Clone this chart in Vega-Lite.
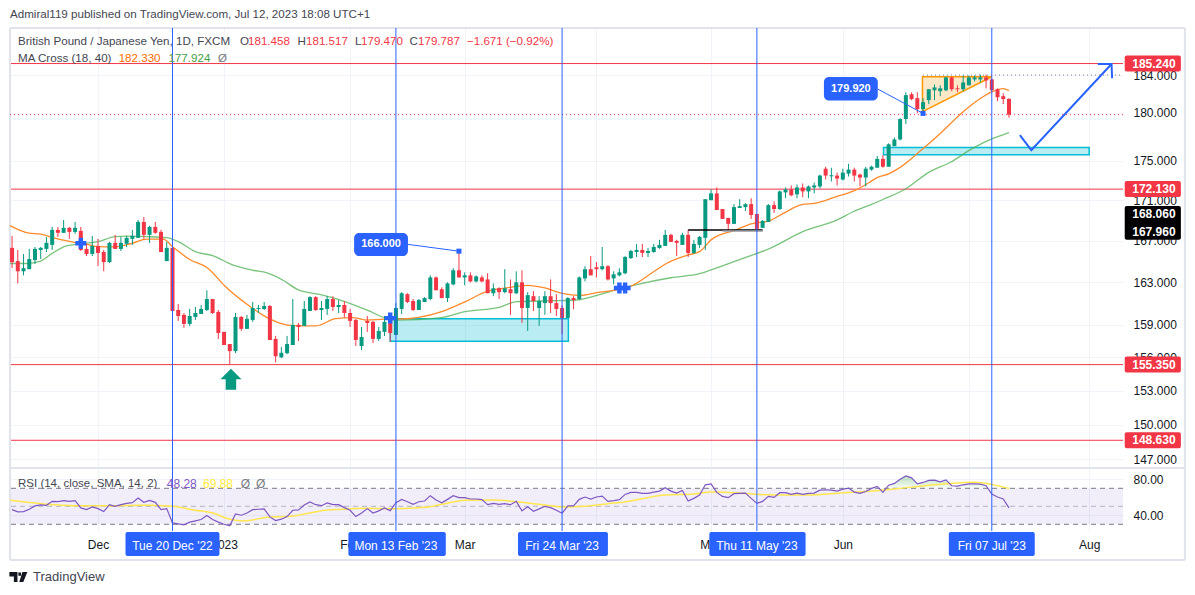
{"$schema":"https://vega.github.io/schema/vega-lite/v6.json","background":"white","padding":{"left":7,"top":9,"right":0,"bottom":0},"bounds":"flush","spacing":0,
"config":{"view":{"stroke":null},"text":{"font":"Liberation Sans"},"axis":{"labelFont":"Liberation Sans","labelFontSize":12,"labelColor":"#131722","gridColor":"#f0f3fa","gridWidth":1,"domain":false,"ticks":false,"labelOverlap":false,"labelBound":false,"labelFlush":false}},
"datasets":{
"candles":[
{"i":-15,"o":166.32,"h":167.49,"l":164.36,"c":164.94},{"i":-14,"o":165.04,"h":166.12,"l":162.9,"c":164.06},{"i":-13,"o":164.06,"h":165.73,"l":163.67,"c":164.36},{"i":-12,"o":164.26,"h":166.22,"l":164.26,"c":165.24},{"i":-11,"o":165.14,"h":166.41,"l":164.75,"c":166.22},{"i":-10,"o":166.12,"h":166.41,"l":165.24,"c":166.32},{"i":-9,"o":166.22,"h":167.39,"l":165.92,"c":166.81},{"i":-8,"o":166.61,"h":168.37,"l":166.12,"c":168.08},{"i":-7,"o":168.08,"h":168.37,"l":167.39,"c":167.79},{"i":-6,"o":167.79,"h":169.06,"l":167.79,"c":168.28},{"i":-5,"o":168.28,"h":168.37,"l":167.2,"c":167.88},{"i":-4,"o":167.88,"h":168.86,"l":167.69,"c":168.28},{"i":-3,"o":167.98,"h":168.37,"l":166.02,"c":166.12},{"i":-2,"o":166.22,"h":166.71,"l":165.53,"c":165.73},{"i":-1,"o":165.73,"h":167.49,"l":165.53,"c":166.51},
{"i":0,"o":166.51,"h":167.2,"l":164.55,"c":165.83},{"i":1,"o":165.92,"h":166.12,"l":164.06,"c":164.94},{"i":2,"o":164.94,"h":166.9,"l":164.85,"c":166.81},{"i":3,"o":166.81,"h":167.59,"l":166.22,"c":166.22},{"i":4,"o":166.22,"h":167.39,"l":166.02,"c":166.81},{"i":5,"o":166.71,"h":167.49,"l":166.41,"c":167.3},{"i":6,"o":167.2,"h":168.08,"l":166.61,"c":167.49},{"i":7,"o":167.3,"h":169.06,"l":167.3,"c":168.86},{"i":8,"o":168.86,"h":169.35,"l":167.2,"c":167.59},{"i":9,"o":167.59,"h":168.47,"l":166.81,"c":168.37},{"i":10,"o":168.37,"h":168.86,"l":167.69,"c":167.79},{"i":11,"o":167.88,"h":168.08,"l":165.92,"c":165.92},{"i":12,"o":165.04,"h":166.9,"l":165.04,"c":166.32},{"i":13,"o":166.32,"h":166.41,"l":158.53,"c":160.3},{"i":14,"o":160.39,"h":160.95,"l":159.37,"c":159.83},{"i":15,"o":159.93,"h":160.11,"l":158.72,"c":159.09},{"i":16,"o":159.09,"h":160.49,"l":158.9,"c":159.83},{"i":17,"o":159.74,"h":160.67,"l":159.46,"c":160.11},{"i":18,"o":160.02,"h":160.86,"l":160.02,"c":160.49},{"i":19,"o":160.39,"h":162.25,"l":160.3,"c":161.42},{"i":20,"o":161.42,"h":161.42,"l":160.02,"c":160.11},{"i":21,"o":160.21,"h":160.39,"l":157.7,"c":158.25},{"i":22,"o":158.35,"h":158.35,"l":157.14,"c":157.14},{"i":23,"o":157.23,"h":157.23,"l":155.35,"c":156.58},{"i":24,"o":156.58,"h":160.11,"l":156.39,"c":159.74},{"i":25,"o":159.74,"h":159.83,"l":158.44,"c":158.63},{"i":26,"o":158.63,"h":159.93,"l":158.63,"c":159.56},{"i":27,"o":159.46,"h":161.14,"l":159.28,"c":160.58},{"i":28,"o":160.49,"h":160.86,"l":160.11,"c":160.58},{"i":29,"o":160.49,"h":161.14,"l":160.39,"c":160.76},{"i":30,"o":160.76,"h":160.86,"l":157.6,"c":157.6},{"i":31,"o":157.7,"h":157.98,"l":155.56,"c":156.11},{"i":32,"o":156.02,"h":156.95,"l":155.93,"c":156.43},{"i":33,"o":156.39,"h":157.98,"l":156.3,"c":157.23},{"i":34,"o":157.14,"h":161.42,"l":157.14,"c":159},{"i":35,"o":159,"h":159.18,"l":157.51,"c":158.81},
{"i":36,"o":158.91,"h":161.23,"l":158.91,"c":160.49},{"i":37,"o":160.3,"h":161.69,"l":160.3,"c":161.6},{"i":38,"o":161.6,"h":161.69,"l":160.3,"c":160.39},{"i":39,"o":160.39,"h":161.23,"l":159.46,"c":160.58},{"i":40,"o":160.49,"h":161.69,"l":159.93,"c":161.42},{"i":41,"o":161.42,"h":161.69,"l":160.3,"c":160.67},{"i":42,"o":160.67,"h":161.32,"l":160.11,"c":160.86},{"i":43,"o":160.86,"h":161.23,"l":159.68,"c":160.11},{"i":44,"o":160.11,"h":160.49,"l":158.81,"c":159.37},{"i":45,"o":159.46,"h":159.56,"l":157.05,"c":157.6},{"i":46,"o":157.05,"h":158.81,"l":156.67,"c":157.88},{"i":47,"o":159.37,"h":159.83,"l":158.35,"c":159.18},{"i":48,"o":159.28,"h":159.37,"l":157.32,"c":157.7},{"i":49,"o":157.7,"h":158.81,"l":157.51,"c":158.44},{"i":50,"o":158.35,"h":159.83,"l":157.97,"c":159.28},{"i":51,"o":159.37,"h":159.74,"l":157.42,"c":158.25},{"i":52,"o":158.07,"h":161.04,"l":158.07,"c":160.58},{"i":53,"o":160.49,"h":162.07,"l":160.02,"c":161.97},{"i":54,"o":161.88,"h":161.97,"l":161.04,"c":161.14},{"i":55,"o":161.23,"h":161.42,"l":160.3,"c":160.39},{"i":56,"o":160.39,"h":161.42,"l":160.39,"c":161.32},{"i":57,"o":161.14,"h":161.6,"l":161.14,"c":161.51},{"i":58,"o":161.42,"h":163.67,"l":161.32,"c":163.47},{"i":59,"o":163.47,"h":163.57,"l":162.25,"c":162.25},{"i":60,"o":162.35,"h":162.53,"l":161.51,"c":161.51},{"i":61,"o":161.51,"h":163,"l":161.14,"c":162.9},{"i":62,"o":162.81,"h":164.36,"l":162.72,"c":164.16},{"i":63,"o":164.16,"h":166,"l":163.47,"c":163.47},{"i":64,"o":163.47,"h":163.96,"l":162.72,"c":163.67},{"i":65,"o":163.67,"h":163.96,"l":163,"c":163.09},{"i":66,"o":163.09,"h":163.67,"l":163,"c":163.57},{"i":67,"o":163.47,"h":163.67,"l":163,"c":163.09},{"i":68,"o":163.28,"h":163.87,"l":161.97,"c":161.97},{"i":69,"o":161.97,"h":162.9,"l":161.69,"c":162.44},{"i":70,"o":162.44,"h":162.53,"l":161.42,"c":162.07},{"i":71,"o":162.07,"h":164.26,"l":161.97,"c":162.44},{"i":72,"o":162.35,"h":163.28,"l":159.93,"c":161.97},{"i":73,"o":161.97,"h":164.06,"l":161.88,"c":163},{"i":74,"o":163,"h":164.16,"l":159.18,"c":160.58},{"i":75,"o":160.58,"h":162.07,"l":158.44,"c":161.79},{"i":76,"o":161.69,"h":162.16,"l":160.3,"c":161.23},{"i":77,"o":160.58,"h":161.69,"l":158.91,"c":161.23},{"i":78,"o":161.04,"h":162.16,"l":159.93,"c":161.69},{"i":79,"o":161.69,"h":163.28,"l":160.11,"c":161.04},{"i":80,"o":161.04,"h":161.88,"l":159.83,"c":160.49},{"i":81,"o":160.58,"h":160.86,"l":158.13,"c":159.65},{"i":82,"o":159.65,"h":161.6,"l":159.65,"c":161.51},{"i":83,"o":161.51,"h":161.69,"l":160.46,"c":161.32},{"i":84,"o":161.42,"h":163.57,"l":161.32,"c":163.47},{"i":85,"o":163.38,"h":164.55,"l":163.09,"c":164.26},{"i":86,"o":164.26,"h":165.53,"l":163.67,"c":163.67},{"i":87,"o":164.45,"h":164.94,"l":163.47,"c":164.26},
{"i":88,"o":164.26,"h":166.41,"l":164.16,"c":164.55},{"i":89,"o":164.55,"h":164.65,"l":163.18,"c":163.28},{"i":90,"o":163.38,"h":164.06,"l":162.81,"c":163.77},{"i":91,"o":163.67,"h":164.35,"l":163.57,"c":163.96},{"i":92,"o":163.87,"h":165.53,"l":163.77,"c":165.43},{"i":93,"o":165.33,"h":166.12,"l":165.24,"c":166.02},{"i":94,"o":165.92,"h":166.71,"l":165.43,"c":166.12},{"i":95,"o":166.12,"h":166.71,"l":165.43,"c":165.83},{"i":96,"o":165.83,"h":166.31,"l":165.43,"c":166.02},{"i":97,"o":165.92,"h":166.71,"l":165.83,"c":166.41},{"i":98,"o":166.31,"h":167.1,"l":166.22,"c":166.61},{"i":99,"o":166.51,"h":168.08,"l":166.51,"c":167.59},{"i":100,"o":167.59,"h":167.69,"l":166.9,"c":166.9},{"i":101,"o":167,"h":167.1,"l":165.53,"c":166.81},{"i":102,"o":166.61,"h":167.79,"l":166.61,"c":167.59},{"i":103,"o":167.59,"h":168.08,"l":165.43,"c":165.83},{"i":104,"o":165.83,"h":167.1,"l":165.73,"c":166.71},{"i":105,"o":166.61,"h":167.49,"l":166.31,"c":167.39},{"i":106,"o":167.3,"h":171.12,"l":166.12,"c":171.12},{"i":107,"o":171.02,"h":172.1,"l":171.02,"c":171.7},{"i":108,"o":171.7,"h":172.3,"l":170.04,"c":170.04},{"i":109,"o":170.14,"h":170.14,"l":169.16,"c":169.16},{"i":110,"o":169.26,"h":169.26,"l":168.08,"c":168.67},{"i":111,"o":168.67,"h":170.63,"l":168.67,"c":170.33},{"i":112,"o":170.24,"h":171.12,"l":170.24,"c":170.43},{"i":113,"o":170.33,"h":170.73,"l":169.94,"c":170.63},{"i":114,"o":170.63,"h":171.22,"l":169.16,"c":169.55},{"i":115,"o":169.65,"h":169.65,"l":167.88,"c":168.18},{"i":116,"o":168.28,"h":169.06,"l":168.28,"c":168.96},{"i":117,"o":168.86,"h":170.63,"l":168.86,"c":170.53},{"i":118,"o":170.53,"h":170.92,"l":169.75,"c":170.14},{"i":119,"o":170.14,"h":172,"l":170.04,"c":171.9},{"i":120,"o":171.8,"h":172.3,"l":171.22,"c":172.1},{"i":121,"o":172.1,"h":172.5,"l":171.41,"c":171.51},{"i":122,"o":171.61,"h":172.6,"l":171.22,"c":172.3},{"i":123,"o":172.3,"h":172.7,"l":171.32,"c":171.9},{"i":124,"o":171.9,"h":172.5,"l":171.22,"c":172.4},{"i":125,"o":172.3,"h":172.8,"l":171.7,"c":172.5},{"i":126,"o":172.4,"h":173.6,"l":172.2,"c":173.5},{"i":127,"o":174.2,"h":174.4,"l":173.1,"c":173.5},{"i":128,"o":173.43,"h":174.3,"l":172.9,"c":173.53},{"i":129,"o":173.5,"h":173.8,"l":172.5,"c":173.2},
{"i":130,"o":173.1,"h":174.2,"l":173,"c":173.8},{"i":131,"o":173.7,"h":174.7,"l":173.4,"c":174.1},{"i":132,"o":174.1,"h":174.3,"l":172.9,"c":173.5},{"i":133,"o":173.6,"h":173.7,"l":172.4,"c":173.3},{"i":134,"o":173.3,"h":174.4,"l":172.4,"c":174.2},{"i":135,"o":174.1,"h":174.5,"l":174,"c":174.4},{"i":136,"o":174.3,"h":175.5,"l":174.3,"c":175.2},{"i":137,"o":175.2,"h":175.6,"l":174.3,"c":174.4},{"i":138,"o":174.4,"h":176.8,"l":174.4,"c":176.7},{"i":139,"o":176.5,"h":177.4,"l":176.5,"c":177.2},{"i":140,"o":177.2,"h":179.43,"l":177.1,"c":179.33},{"i":141,"o":179.33,"h":182.16,"l":178.8,"c":181.85},{"i":142,"o":181.95,"h":182.16,"l":181.32,"c":181.43},{"i":143,"o":181.53,"h":182.16,"l":179.95,"c":180.37},{"i":144,"o":180.37,"h":181.53,"l":179.92,"c":181.11},{"i":145,"o":181.32,"h":182.48,"l":180.9,"c":182.48},{"i":146,"o":182.37,"h":183,"l":181.32,"c":182.68},{"i":147,"o":182.27,"h":182.9,"l":181.74,"c":182.58},{"i":148,"o":182.37,"h":183.84,"l":182.27,"c":183.74},{"i":149,"o":183.74,"h":183.84,"l":182.27,"c":182.48},{"i":150,"o":182.58,"h":182.9,"l":182.16,"c":182.48},{"i":151,"o":182.48,"h":183.95,"l":182.27,"c":183.21},{"i":152,"o":182.9,"h":183.95,"l":182.9,"c":183.74},{"i":153,"o":183.53,"h":183.95,"l":183.32,"c":183.74},{"i":154,"o":183.53,"h":184.05,"l":183.21,"c":183.74},{"i":155,"o":183.74,"h":184.05,"l":182.58,"c":183.42},{"i":156,"o":183.53,"h":183.63,"l":182.16,"c":182.37},{"i":157,"o":182.48,"h":182.58,"l":181.21,"c":181.63},{"i":158,"o":181.74,"h":182.05,"l":180.9,"c":181.43},{"i":159,"o":181.458,"h":181.517,"l":179.47,"c":179.787}],
"ma":[
{"s":"ma18","i":-15.36,"v":168.5},{"s":"ma18","i":-12,"v":167.75},{"s":"ma18","i":-10,"v":167.66},{"s":"ma18","i":-7.5,"v":167.26},{"s":"ma18","i":-4,"v":166.83},{"s":"ma18","i":-2,"v":166.68},{"s":"ma18","i":0,"v":166.44},{"s":"ma18","i":3,"v":166.41},{"s":"ma18","i":6,"v":166.77},{"s":"ma18","i":8.5,"v":167.17},{"s":"ma18","i":11.4,"v":167.17},{"s":"ma18","i":13,"v":166.44},{"s":"ma18","i":16,"v":165.2},{"s":"ma18","i":19,"v":164.42},{"s":"ma18","i":22.5,"v":162.47},{"s":"ma18","i":26,"v":160.93},{"s":"ma18","i":29,"v":159.84},{"s":"ma18","i":32,"v":159.12},{"s":"ma18","i":34,"v":158.93},{"s":"ma18","i":38,"v":158.9},{"s":"ma18","i":41.5,"v":159.59},{"s":"ma18","i":44.5,"v":159.68},{"s":"ma18","i":47,"v":159.44},{"s":"ma18","i":50,"v":159.53},{"s":"ma18","i":52,"v":159.53},{"s":"ma18","i":60,"v":160.24},{"s":"ma18","i":64.3,"v":161.23},{"s":"ma18","i":68,"v":162.16},{"s":"ma18","i":71.3,"v":162.47},{"s":"ma18","i":75,"v":162.72},{"s":"ma18","i":78,"v":162.47},{"s":"ma18","i":81,"v":161.95},{"s":"ma18","i":84,"v":161.76},{"s":"ma18","i":87.6,"v":162.07},{"s":"ma18","i":90,"v":162.23},{"s":"ma18","i":93,"v":162.63},{"s":"ma18","i":96.9,"v":163.99},{"s":"ma18","i":99.2,"v":164.81},{"s":"ma18","i":103,"v":165.63},{"s":"ma18","i":105,"v":165.95},{"s":"ma18","i":107,"v":167.1},{"s":"ma18","i":111.4,"v":168.08},{"s":"ma18","i":114,"v":168.67},{"s":"ma18","i":117.3,"v":169},{"s":"ma18","i":119.6,"v":169.71},{"s":"ma18","i":123,"v":170.6},{"s":"ma18","i":125,"v":170.7},{"s":"ma18","i":129,"v":171.41},{"s":"ma18","i":131.8,"v":171.93},{"s":"ma18","i":134.7,"v":172.83},{"s":"ma18","i":135.9,"v":173.27},{"s":"ma18","i":138,"v":173.67},{"s":"ma18","i":140,"v":174.33},{"s":"ma18","i":143.5,"v":176},{"s":"ma18","i":147,"v":177.83},{"s":"ma18","i":151,"v":180.1},{"s":"ma18","i":154,"v":181.5},{"s":"ma18","i":156,"v":182.2},{"s":"ma18","i":158,"v":182.55},{"s":"ma18","i":159,"v":182.33},
{"s":"ma40","i":-15.36,"v":164.81},{"s":"ma40","i":-12.5,"v":164.81},{"s":"ma40","i":-10,"v":165.04},{"s":"ma40","i":-8,"v":165.79},{"s":"ma40","i":-5.5,"v":166.51},{"s":"ma40","i":-3,"v":166.71},{"s":"ma40","i":0,"v":166.93},{"s":"ma40","i":3,"v":167.42},{"s":"ma40","i":5,"v":167.46},{"s":"ma40","i":8.5,"v":167.42},{"s":"ma40","i":12,"v":167.32},{"s":"ma40","i":14,"v":166.93},{"s":"ma40","i":17,"v":165.95},{"s":"ma40","i":20,"v":165.56},{"s":"ma40","i":23.6,"v":164.65},{"s":"ma40","i":27,"v":164.16},{"s":"ma40","i":29.5,"v":163.9},{"s":"ma40","i":32.3,"v":163.2},{"s":"ma40","i":35,"v":162.28},{"s":"ma40","i":38.7,"v":161.85},{"s":"ma40","i":42.8,"v":161.23},{"s":"ma40","i":47,"v":160.37},{"s":"ma40","i":50.4,"v":159.59},{"s":"ma40","i":52,"v":159.44},{"s":"ma40","i":60,"v":159.68},{"s":"ma40","i":63.8,"v":160.21},{"s":"ma40","i":70.2,"v":160.67},{"s":"ma40","i":73,"v":161.17},{"s":"ma40","i":79,"v":161.26},{"s":"ma40","i":83.5,"v":161.33},{"s":"ma40","i":88,"v":161.91},{"s":"ma40","i":90,"v":162.23},{"s":"ma40","i":94,"v":162.79},{"s":"ma40","i":100,"v":163.44},{"s":"ma40","i":105,"v":163.83},{"s":"ma40","i":108.5,"v":164.48},{"s":"ma40","i":112.6,"v":165.3},{"s":"ma40","i":117.3,"v":166.28},{"s":"ma40","i":123,"v":167.91},{"s":"ma40","i":129,"v":169.06},{"s":"ma40","i":131.8,"v":169.87},{"s":"ma40","i":134.7,"v":170.53},{"s":"ma40","i":137,"v":171.09},{"s":"ma40","i":141,"v":172.17},{"s":"ma40","i":145,"v":173.83},{"s":"ma40","i":148.7,"v":174.83},{"s":"ma40","i":152.8,"v":176.33},{"s":"ma40","i":156.3,"v":177.33},{"s":"ma40","i":159,"v":177.924}],
"rsi":[
{"i":-15,"r":46.3},{"i":-14,"r":43.8},{"i":-13,"r":44.1},{"i":-12,"r":46.7},{"i":-11,"r":50.4},{"i":-10,"r":51.5},{"i":-9,"r":51.1},{"i":-8,"r":55.5},{"i":-7,"r":55.1},{"i":-6,"r":56.3},{"i":-5,"r":55.5},{"i":-4,"r":56.3},{"i":-3,"r":48.2},{"i":-2,"r":46.3},{"i":-1,"r":49.3},{"i":0,"r":47.4},{"i":1,"r":44.1},{"i":2,"r":51.8},{"i":3,"r":50},{"i":4,"r":51.8},{"i":5,"r":53.3},{"i":6,"r":54},{"i":7,"r":59.2},{"i":8,"r":54.4},{"i":9,"r":56.6},{"i":10,"r":54.4},{"i":11,"r":46.3},{"i":12,"r":47.4},{"i":13,"r":31.6},{"i":14,"r":30.5},{"i":15,"r":29.4},{"i":16,"r":32.4},{"i":17,"r":33.8},{"i":18,"r":35.3},{"i":19,"r":39.7},{"i":20,"r":35.3},{"i":21,"r":32.4},{"i":22,"r":30.1},{"i":23,"r":28.3},{"i":24,"r":41.5},{"i":25,"r":40.1},{"i":26,"r":42.6},{"i":27,"r":46.3},{"i":28,"r":46.7},{"i":29,"r":47.1},{"i":30,"r":38.2},{"i":31,"r":34.2},{"i":32,"r":35.7},{"i":33,"r":38.6},{"i":34,"r":45.6},{"i":35,"r":46},{"i":36,"r":51.5},{"i":37,"r":54.8},
{"i":38,"r":51.8},{"i":39,"r":50.7},{"i":40,"r":53.7},{"i":41,"r":51.8},{"i":42,"r":51.8},{"i":43,"r":48.5},{"i":44,"r":45.6},{"i":45,"r":38.6},{"i":46,"r":42.6},{"i":47,"r":47.4},{"i":48,"r":42.6},{"i":49,"r":44.9},{"i":50,"r":48.2},{"i":51,"r":45.2},{"i":52,"r":54},{"i":53,"r":57.7},{"i":54,"r":55.1},{"i":55,"r":52.2},{"i":56,"r":55.1},{"i":57,"r":55.9},{"i":58,"r":61.8},{"i":59,"r":57},{"i":60,"r":54},{"i":61,"r":57.7},{"i":62,"r":61.8},{"i":63,"r":59.6},{"i":64,"r":59.6},{"i":65,"r":58.1},{"i":66,"r":58.1},{"i":67,"r":57.4},{"i":68,"r":51.8},{"i":69,"r":53.3},{"i":70,"r":52.2},{"i":71,"r":52.9},{"i":72,"r":51.8},{"i":73,"r":55.5},{"i":74,"r":44.9},{"i":75,"r":49.6},{"i":76,"r":44.5},{"i":77,"r":47.1},{"i":78,"r":50},{"i":79,"r":48.5},{"i":80,"r":45.6},{"i":81,"r":42.3},{"i":82,"r":50.4},{"i":83,"r":50.4},{"i":84,"r":57.7},{"i":85,"r":60.3},{"i":86,"r":58.1},{"i":87,"r":60.3},{"i":88,"r":61.4},{"i":89,"r":55.5},
{"i":90,"r":56.3},{"i":91,"r":57.4},{"i":92,"r":63.2},{"i":93,"r":65.4},{"i":94,"r":65.4},{"i":95,"r":64.3},{"i":96,"r":64.3},{"i":97,"r":65.8},{"i":98,"r":66.9},{"i":99,"r":70.6},{"i":100,"r":66.9},{"i":101,"r":64.7},{"i":102,"r":67.6},{"i":103,"r":55.9},{"i":104,"r":58.8},{"i":105,"r":62.5},{"i":106,"r":73.9},{"i":107,"r":75},{"i":108,"r":65.4},{"i":109,"r":61},{"i":110,"r":59.6},{"i":111,"r":64},{"i":112,"r":64.3},{"i":113,"r":64.7},{"i":114,"r":58.8},{"i":115,"r":53.3},{"i":116,"r":55.5},{"i":117,"r":61},{"i":118,"r":59.9},{"i":119,"r":65.1},{"i":120,"r":65.1},{"i":121,"r":63.2},{"i":122,"r":64.7},{"i":123,"r":63.2},{"i":124,"r":64.3},{"i":125,"r":64.7},{"i":126,"r":68},{"i":127,"r":68.4},{"i":128,"r":68},{"i":129,"r":66.9},{"i":130,"r":69.1},{"i":131,"r":70.2},{"i":132,"r":65.8},{"i":133,"r":64.3},{"i":134,"r":66.5},{"i":135,"r":69.9},{"i":136,"r":72.1},{"i":137,"r":65.4},{"i":138,"r":73.5},{"i":139,"r":75.4},{"i":140,"r":80.1},{"i":141,"r":83.8},{"i":142,"r":81.6},{"i":143,"r":75},{"i":144,"r":76.5},{"i":145,"r":78.7},{"i":146,"r":79},{"i":147,"r":77.2},{"i":148,"r":79.4},{"i":149,"r":72.8},{"i":150,"r":72.4},{"i":151,"r":73.9},{"i":152,"r":75},{"i":153,"r":75},{"i":154,"r":74.6},{"i":155,"r":72.8},{"i":156,"r":63.6},{"i":157,"r":60.3},{"i":158,"r":58.1},{"i":159,"r":48.28}],
"rsima":[{"i":-15.36,"v":56.6},{"i":-9.5,"v":52.6},{"i":-4,"v":50.7},{"i":2,"v":50.7},{"i":8,"v":51.1},{"i":13,"v":50},{"i":17,"v":45.6},{"i":20,"v":42.6},{"i":23,"v":35.7},{"i":25.5,"v":33.8},{"i":30,"v":38.2},{"i":33,"v":38.6},{"i":37,"v":42.6},{"i":40,"v":46},{"i":43,"v":46.7},{"i":46,"v":47.8},{"i":52,"v":47.4},{"i":57,"v":48.9},{"i":60,"v":52.2},{"i":64,"v":56.6},{"i":69,"v":57},{"i":73,"v":55.1},{"i":78,"v":51.5},{"i":81,"v":49.3},{"i":85,"v":50},{"i":89,"v":52.9},{"i":92,"v":54.8},{"i":95,"v":58.5},{"i":99,"v":62.5},{"i":104,"v":63.6},{"i":107,"v":65.8},{"i":113,"v":64.3},{"i":118,"v":62.5},{"i":124,"v":62.5},{"i":130,"v":65.1},{"i":136,"v":67.3},{"i":142,"v":71.3},{"i":148,"v":75},{"i":153,"v":76.8},{"i":156,"v":74.3},{"i":159,"v":69.88}],
"markers":[{"i":13},{"i":52},{"i":81},{"i":115},{"i":156}],
"levels":[{"p":185.24},{"p":172.13},{"p":155.35},{"p":148.63}],
"lastprice":[{"p":179.787}],
"boxes":[{"a":51,"b":82.1,"lo":157.49,"hi":159.56},{"a":137.1,"b":173,"lo":175.63,"hi":176.37}],
"wedge":[{"i":143.9,"lo":180.1,"hi":183.82},{"i":156,"lo":183.82,"hi":183.82}],
"segs":[{"a":103,"b":116,"p":168.06,"kind":"black"},{"a":109,"b":116,"p":167.96,"kind":"gray"}],
"crosses":[{"i":-3,"p":166.77},{"i":51,"p":159.63},{"i":91,"p":162.47},{"i":92,"p":162.47}],
"signal":[{"i":23.2,"p":154.02}],
"arrow":[{"k":1,"part":"body","i":160.9,"p":177.66},{"k":2,"part":"body","i":162.9,"p":176.1},{"k":3,"part":"body","i":176.9,"p":185.19},{"k":4,"part":"head","i":174.5,"p":185.19},{"k":5,"part":"head","i":176.9,"p":185.19},{"k":6,"part":"head","i":177,"p":183.65}],
"callouts":[{"a":44.7,"b":54.1,"lo":165.53,"hi":167.78,"mid":49.4,"at":166.66,"tip":63,"tp":166,"label":"166.000"},{"a":126.7,"b":136.1,"lo":181.27,"hi":183.8,"mid":131.4,"at":182.5,"tip":144,"tp":179.92,"label":"179.920"}],
"tags":[{"a":179.2,"b":189,"lo":184.38,"hi":186.11,"kind":"red"},{"a":179.2,"b":189,"lo":171.33,"hi":172.94,"kind":"red"},{"a":179.2,"b":189,"lo":154.63,"hi":156.08,"kind":"red"},{"a":179.2,"b":189,"lo":147.94,"hi":149.33,"kind":"red"},{"a":179.2,"b":189,"lo":167.1,"hi":170.43,"kind":"black"}],
"tagtext":[{"p":185.24,"label":"185.240"},{"p":172.13,"label":"172.130"},{"p":155.35,"label":"155.350"},{"p":148.63,"label":"148.630"},{"p":169.65,"label":"168.060"},{"p":167.91,"label":"167.960"}],
"labels":[{"i":-15.36,"p":190.57,"label":"Admiral119 published on TradingView.com, Jul 12, 2023 18:08 UTC+1","kind":"dark"},{"i":-13.96,"p":187.59,"label":"British Pound / Japanese Yen, 1D, FXCM","kind":"dark"},{"i":24.78,"p":187.59,"label":"O","kind":"dark"},{"i":26.18,"p":187.59,"label":"181.458","kind":"red"},{"i":34.8,"p":187.59,"label":"H","kind":"dark"},{"i":36.3,"p":187.59,"label":"181.517","kind":"red"},{"i":44.85,"p":187.59,"label":"L","kind":"dark"},{"i":45.9,"p":187.59,"label":"179.470","kind":"red"},{"i":54.36,"p":187.59,"label":"C","kind":"dark"},{"i":55.85,"p":187.59,"label":"179.787","kind":"red"},{"i":64.4,"p":187.59,"label":"−1.671 (−0.92%)","kind":"red"},{"i":-13.96,"p":185.73,"label":"MA Cross (18, 40)","kind":"dark"},{"i":3.6,"p":185.73,"label":"182.330","kind":"orange"},{"i":12.29,"p":185.73,"label":"177.924","kind":"green"},{"i":20.94,"p":185.73,"label":"Ø","kind":"gray"}],
"rsilabels":[{"i":-13.96,"v":74.8,"label":"RSI (14, close, SMA, 14, 2)","kind":"dark"},{"i":12,"v":74.8,"label":"48.28","kind":"purple"},{"i":18.32,"v":74.8,"label":"69.88","kind":"yellow"},{"i":24.9,"v":74.8,"label":"Ø","kind":"gray"},{"i":27.57,"v":74.8,"label":"Ø","kind":"gray"},{"i":-11.34,"v":-28.6,"label":"TradingView","kind":"dark"}],
"dates":[{"a":4.8,"b":21.2,"mid":13,"label":"Tue 20 Dec '22"},{"a":43.7,"b":60.7,"mid":52,"label":"Mon 13 Feb '23"},{"a":73.3,"b":89,"mid":81,"label":"Fri 24 Mar '23"},{"a":106.7,"b":123.5,"mid":115,"label":"Thu 11 May '23"},{"a":148.5,"b":163.5,"mid":156,"label":"Fri 07 Jul '23"}],
"bands":[{"a":-15.36,"b":178.9,"lo":30,"hi":70}],
"rsilevels":[{"v":70,"kind":"gray"},{"v":30,"kind":"gray"},{"v":50,"kind":"soft"}],
"framemain":[{"a":-15.36,"b":189.7,"p":189.13},{"a":-15.36,"b":189.7,"p":146.24}],
"frameedge":[{"i":-15.36},{"i":189.7}],
"framersi":[{"i":-15.36,"top":92.55,"bottom":-9.7},{"i":189.7,"top":92.55,"bottom":-9.7}],
"framefoot":[{"a":-15.36,"b":189.7,"v":-9.7}],
"logo":[{"i":-13.9,"v":-28.6}]
},
"vconcat":[
{"width":1113,"height":440,"layer":[
{"data":{"name":"levels"},"mark":{"type":"rule","color":"#f23645","strokeWidth":1},"encoding":{
"x":{"datum":-15.36,"type":"quantitative","scale":{"domain":[-15.36,178.9],"nice":false,"zero":false,"padding":0},"axis":{"values":[0,22,44,64,87,107,130,152,173],"labels":false,"grid":true,"title":null}},
"x2":{"datum":178.9},
"y":{"field":"p","type":"quantitative","scale":{"type":"log","domain":[146.24,189.13],"nice":false,"zero":false},"axis":{"orient":"right","values":[147,150,153,156,159,163,167,171,175,180,184],"format":".3f","labelPadding":10,"grid":true,"title":null}}}},
{"data":{"name":"framemain"},"mark":{"type":"rule","color":"#e0e3eb","strokeWidth":2},"encoding":{"x":{"field":"a","type":"quantitative"},"x2":{"field":"b"},"y":{"field":"p","type":"quantitative"}}},
{"data":{"name":"frameedge"},"mark":{"type":"rule","color":"#e0e3eb","strokeWidth":2},"encoding":{"x":{"field":"i","type":"quantitative"}}},
{"data":{"name":"boxes"},"mark":{"type":"rect","fill":"#00bcd4","fillOpacity":0.27,"stroke":"#00bcd4","strokeWidth":1.5},"encoding":{"x":{"field":"a","type":"quantitative"},"x2":{"field":"b"},"y":{"field":"lo","type":"quantitative"},"y2":{"field":"hi"}}},
{"data":{"name":"wedge"},"mark":{"type":"area","fill":"#ff9800","fillOpacity":0.22,"stroke":"#ff9800","strokeWidth":1.5},"encoding":{"x":{"field":"i","type":"quantitative"},"y":{"field":"lo","type":"quantitative"},"y2":{"field":"hi"}}},
{"data":{"name":"ma"},"transform":[{"filter":"datum.s==='ma40'"}],"mark":{"type":"line","color":"#4caf50","opacity":0.75,"strokeWidth":1.3,"interpolate":"monotone"},"encoding":{"x":{"field":"i","type":"quantitative"},"y":{"field":"v","type":"quantitative"}}},
{"data":{"name":"ma"},"transform":[{"filter":"datum.s==='ma18'"}],"mark":{"type":"line","color":"#ff8a2b","strokeWidth":1.3,"interpolate":"monotone"},"encoding":{"x":{"field":"i","type":"quantitative"},"y":{"field":"v","type":"quantitative"}}},
{"data":{"name":"lastprice"},"mark":{"type":"rule","color":"#f23645","strokeWidth":1,"strokeDash":[1,3]},"encoding":{"y":{"field":"p","type":"quantitative"}}},
{"data":{"values":[{"a":144,"b":178.9,"p":184}]},"mark":{"type":"rule","color":"#787b86","strokeWidth":1,"strokeDash":[1,3]},"encoding":{"x":{"field":"a","type":"quantitative"},"x2":{"field":"b"},"y":{"field":"p","type":"quantitative"}}},
{"data":{"name":"candles"},"mark":{"type":"rule","strokeWidth":1},"encoding":{"x":{"field":"i","type":"quantitative"},"y":{"field":"l","type":"quantitative"},"y2":{"field":"h"},"color":{"condition":{"test":"datum.c>=datum.o","value":"#089981"},"value":"#f23645"}}},
{"data":{"name":"candles"},"mark":{"type":"bar","size":4},"encoding":{"x":{"field":"i","type":"quantitative"},"y":{"field":"o","type":"quantitative"},"y2":{"field":"c"},"color":{"condition":{"test":"datum.c>=datum.o","value":"#089981"},"value":"#f23645"}}},
{"data":{"name":"segs"},"mark":{"type":"rule","strokeWidth":1.5},"encoding":{"x":{"field":"a","type":"quantitative"},"x2":{"field":"b"},"y":{"field":"p","type":"quantitative"},"color":{"field":"kind","type":"nominal","legend":null,"scale":{"domain":["black","gray"],"range":["#000000","#9598a1"]}}}},
{"data":{"name":"crosses"},"mark":{"type":"point","shape":"cross","filled":true,"size":121,"color":"#2962ff","opacity":1},"encoding":{"x":{"field":"i","type":"quantitative"},"y":{"field":"p","type":"quantitative"}}},
{"data":{"name":"signal"},"mark":{"type":"point","shape":"M0,-1 L1,0 L0.5,0 L0.5,1 L-0.5,1 L-0.5,0 L-1,0 Z","filled":true,"size":441,"color":"#089981","opacity":1},"encoding":{"x":{"field":"i","type":"quantitative"},"y":{"field":"p","type":"quantitative"}}},
{"data":{"name":"arrow"},"mark":{"type":"line","color":"#2962ff","strokeWidth":2},"encoding":{"x":{"field":"i","type":"quantitative"},"y":{"field":"p","type":"quantitative"},"detail":{"field":"part"},"order":{"field":"k"}}},
{"data":{"name":"markers"},"mark":{"type":"rule","color":"#2962ff","strokeWidth":1},"encoding":{"x":{"field":"i","type":"quantitative"}}},
{"data":{"name":"callouts"},"mark":{"type":"rule","color":"#2962ff","strokeWidth":1},"encoding":{"x":{"field":"b","type":"quantitative"},"x2":{"field":"tip"},"y":{"field":"at","type":"quantitative"},"y2":{"field":"tp"}}},
{"data":{"name":"callouts"},"mark":{"type":"point","shape":"square","filled":true,"size":25,"color":"#2962ff","opacity":1},"encoding":{"x":{"field":"tip","type":"quantitative"},"y":{"field":"tp","type":"quantitative"}}},
{"data":{"name":"callouts"},"mark":{"type":"rect","fill":"#2962ff","cornerRadius":5},"encoding":{"x":{"field":"a","type":"quantitative"},"x2":{"field":"b"},"y":{"field":"lo","type":"quantitative"},"y2":{"field":"hi"}}},
{"data":{"name":"callouts"},"mark":{"type":"text","color":"white","fontSize":11,"fontWeight":"bold","align":"center","baseline":"middle"},"encoding":{"x":{"field":"mid","type":"quantitative"},"y":{"field":"at","type":"quantitative"},"text":{"field":"label"}}},
{"data":{"name":"tags"},"transform":[{"filter":"datum.kind==='red'"}],"mark":{"type":"rect","fill":"#f23645","cornerRadius":2},"encoding":{"x":{"field":"a","type":"quantitative"},"x2":{"field":"b"},"y":{"field":"lo","type":"quantitative"},"y2":{"field":"hi"}}},
{"data":{"name":"tags"},"transform":[{"filter":"datum.kind==='black'"}],"mark":{"type":"rect","fill":"#000000","cornerRadius":2},"encoding":{"x":{"field":"a","type":"quantitative"},"x2":{"field":"b"},"y":{"field":"lo","type":"quantitative"},"y2":{"field":"hi"}}},
{"data":{"name":"tagtext"},"mark":{"type":"text","color":"white","fontSize":12,"fontWeight":"bold","align":"center","baseline":"middle"},"encoding":{"x":{"datum":184.3,"type":"quantitative"},"y":{"field":"p","type":"quantitative"},"text":{"field":"label"}}},
{"data":{"name":"labels"},"mark":{"type":"text","fontSize":11.6,"align":"left","baseline":"middle"},"encoding":{"x":{"field":"i","type":"quantitative"},"y":{"field":"p","type":"quantitative"},"text":{"field":"label"},"color":{"field":"kind","type":"nominal","legend":null,"scale":{"domain":["dark","red","orange","green","gray"],"range":["#434651","#f23645","#ff6d00","#43a047","#787b86"]}}}}
],"resolve":{"scale":{"color":"independent"}}},
{"width":1113,"height":63,"layer":[
{"data":{"name":"bands"},"mark":{"type":"rect","fill":"#7e57c2","fillOpacity":0.1},"encoding":{
"x":{"field":"a","type":"quantitative","scale":{"domain":[-15.36,178.9],"nice":false,"zero":false,"padding":0},"axis":{"values":[0,22,44,64,87,107,130,152,173],"labelExpr":"{'0':'Dec','22':'2023','44':'Feb','64':'Mar','87':'','107':'May','130':'Jun','152':'','173':'Aug'}[datum.value]","labelPadding":8,"grid":true,"title":null}},
"x2":{"field":"b"},
"y":{"field":"lo","type":"quantitative","scale":{"domain":[22.56,92.55],"nice":false,"zero":false},"axis":{"orient":"right","values":[40,80],"format":".2f","labelPadding":10,"grid":true,"title":null}},
"y2":{"field":"hi"}}},
{"data":{"name":"framersi"},"mark":{"type":"rule","color":"#e0e3eb","strokeWidth":2},"encoding":{"x":{"field":"i","type":"quantitative"},"y":{"field":"top","type":"quantitative"},"y2":{"field":"bottom"}}},
{"data":{"name":"framefoot"},"mark":{"type":"rule","color":"#e0e3eb","strokeWidth":2},"encoding":{"x":{"field":"a","type":"quantitative"},"x2":{"field":"b"},"y":{"field":"v","type":"quantitative"}}},
{"data":{"name":"rsilevels"},"transform":[{"filter":"datum.kind==='gray'"}],"mark":{"type":"rule","color":"#787b86","strokeWidth":1,"strokeDash":[5,4]},"encoding":{"y":{"field":"v","type":"quantitative"}}},
{"data":{"name":"rsilevels"},"transform":[{"filter":"datum.kind==='soft'"}],"mark":{"type":"rule","color":"#b2b5be","strokeWidth":1,"strokeDash":[5,4]},"encoding":{"y":{"field":"v","type":"quantitative"}}},
{"data":{"name":"rsi"},"transform":[{"filter":"datum.i>=138 && datum.i<=155"}],"mark":{"type":"area","color":{"gradient":"linear","x1":0,"x2":0,"y1":0,"y2":1,"stops":[{"offset":0,"color":"rgba(76,175,80,0.4)"},{"offset":1,"color":"rgba(76,175,80,0.03)"}]}},"encoding":{"x":{"field":"i","type":"quantitative"},"y":{"field":"r","type":"quantitative"},"y2":{"datum":70}}},
{"data":{"name":"rsima"},"mark":{"type":"line","color":"#ffe64d","strokeWidth":1.5,"interpolate":"monotone"},"encoding":{"x":{"field":"i","type":"quantitative"},"y":{"field":"v","type":"quantitative"}}},
{"data":{"name":"rsi"},"mark":{"type":"line","color":"#7e57c2","strokeWidth":1.2},"encoding":{"x":{"field":"i","type":"quantitative"},"y":{"field":"r","type":"quantitative"}}},
{"data":{"name":"markers"},"mark":{"type":"rule","color":"#2962ff","strokeWidth":1},"encoding":{"x":{"field":"i","type":"quantitative"}}},
{"data":{"name":"dates"},"mark":{"type":"rect","fill":"#2962ff","cornerRadius":2},"encoding":{"x":{"field":"a","type":"quantitative"},"x2":{"field":"b"},"y":{"datum":21.44,"type":"quantitative"},"y2":{"datum":-5.22}}},
{"data":{"name":"dates"},"mark":{"type":"text","color":"white","fontSize":12,"align":"center","baseline":"middle"},"encoding":{"x":{"field":"mid","type":"quantitative"},"y":{"datum":5.9,"type":"quantitative"},"text":{"field":"label"}}},
{"data":{"name":"logo"},"mark":{"type":"point","shape":"M-1,-0.55 L-0.1,-0.55 L-0.1,0.55 L-0.5,0.55 L-0.5,-0.05 L-1,-0.05 Z M0,-0.5 L0.3,-0.5 L0.3,-0.15 L0,-0.15 Z M0.45,-0.55 L1,-0.55 L0.55,0.55 L0.1,0.55 Z","filled":true,"size":324,"color":"#131722","opacity":1},"encoding":{"x":{"field":"i","type":"quantitative"},"y":{"field":"v","type":"quantitative"}}},
{"data":{"name":"rsilabels"},"transform":[{"filter":"datum.kind!=='dark'"}],"mark":{"type":"text","fontSize":12,"align":"left","baseline":"middle"},"encoding":{"x":{"field":"i","type":"quantitative"},"y":{"field":"v","type":"quantitative"},"text":{"field":"label"},"color":{"field":"kind","type":"nominal","legend":null,"scale":{"domain":["purple","yellow","gray"],"range":["#7e57c2","#ffeb3b","#787b86"]}}}},
{"data":{"name":"rsilabels"},"transform":[{"filter":"datum.label==='RSI (14, close, SMA, 14, 2)'"}],"mark":{"type":"text","fontSize":11.5,"align":"left","baseline":"middle","color":"#434651"},"encoding":{"x":{"field":"i","type":"quantitative"},"y":{"field":"v","type":"quantitative"},"text":{"field":"label"}}},
{"data":{"name":"rsilabels"},"transform":[{"filter":"datum.label==='TradingView'"}],"mark":{"type":"text","fontSize":13,"align":"left","baseline":"middle","color":"#434651"},"encoding":{"x":{"field":"i","type":"quantitative"},"y":{"field":"v","type":"quantitative"},"text":{"field":"label"}}}
],"resolve":{"scale":{"color":"independent"}}}
]}
